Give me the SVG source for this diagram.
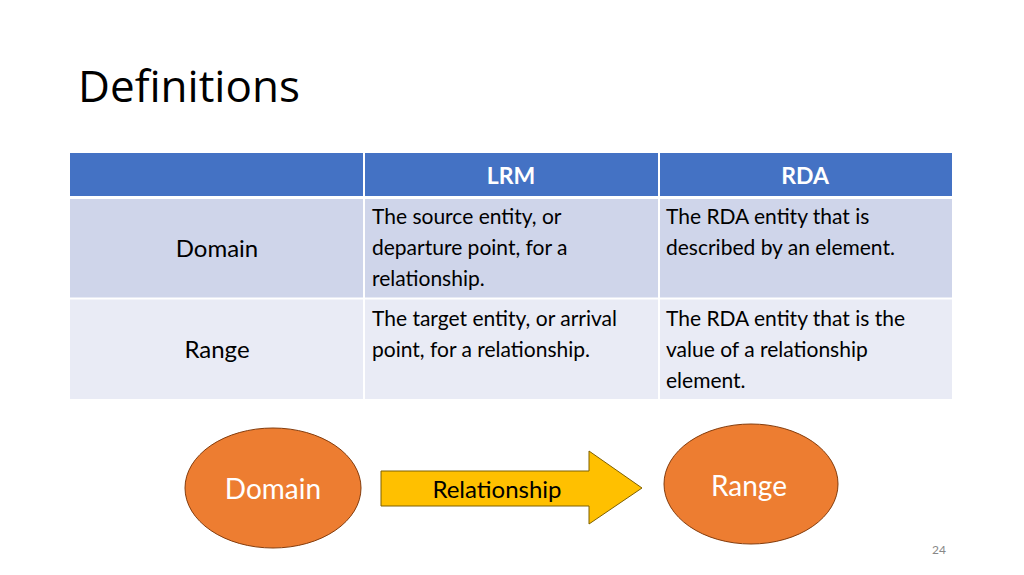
<svg xmlns="http://www.w3.org/2000/svg" width="1024" height="575" viewBox="0 0 1024 575">
<style>
.t{font-family:Lato,"Liberation Sans",sans-serif;font-size:21px;fill:#000}
.h{font-family:Lato,"Liberation Sans",sans-serif;font-size:23px;font-weight:bold;fill:#fff}
.c{font-family:Lato,"Liberation Sans",sans-serif;font-size:24px;fill:#000}
.n{font-family:Lato,"Liberation Sans",sans-serif;font-size:28px;fill:#fff}
</style>
<rect width="1024" height="575" fill="#fff"/>
<text x="78" y="102" font-family="'Open Sans','Noto Sans',sans-serif" font-size="44" fill="#000">Definitions</text>
<g id="table">
<rect x="70" y="153" width="882" height="44" fill="#4472C4"/>
<rect x="70" y="198" width="882" height="100" fill="#CFD5EA"/>
<rect x="70" y="299" width="882" height="100" fill="#E9EBF5"/>
<line x1="364" y1="153" x2="364" y2="399" stroke="#fff" stroke-width="2"/>
<line x1="659" y1="153" x2="659" y2="399" stroke="#fff" stroke-width="2"/>
<line x1="70" y1="197.5" x2="952" y2="197.5" stroke="#fff" stroke-width="3"/>
<line x1="70" y1="298.5" x2="952" y2="298.5" stroke="#fff" stroke-width="2"/>
<text class="h" x="511" y="184" text-anchor="middle">LRM</text>
<text class="h" x="805" y="184" text-anchor="middle">RDA</text>
<text class="c" x="217" y="257" text-anchor="middle">Domain</text>
<text class="c" x="217" y="358" text-anchor="middle">Range</text>
<text class="t" x="372" y="224">The source entity, or</text>
<text class="t" x="372" y="255">departure point, for a</text>
<text class="t" x="372" y="286">relationship.</text>
<text class="t" x="666" y="224">The RDA entity that is</text>
<text class="t" x="666" y="255">described by an element.</text>
<text class="t" x="372" y="326">The target entity, or arrival</text>
<text class="t" x="372" y="357">point, for a relationship.</text>
<text class="t" x="666" y="326">The RDA entity that is the</text>
<text class="t" x="666" y="357">value of a relationship</text>
<text class="t" x="666" y="388">element.</text>
</g>
<g id="domain">
<ellipse cx="273" cy="488" rx="88" ry="60" fill="#ED7D31" stroke="#843C0C" stroke-width="1"/>
<text class="n" x="273" y="499" text-anchor="middle">Domain</text>
</g>
<g id="range">
<ellipse cx="751" cy="484" rx="87" ry="60" fill="#ED7D31" stroke="#843C0C" stroke-width="1"/>
<text class="n" x="749" y="496" text-anchor="middle">Range</text>
</g>
<g id="connectors">
<polygon points="381,471 589,471 589,451 642,488 589,524 589,506 381,506" fill="#FFC000" stroke="#7F6000" stroke-width="1"/>
<text class="c" x="497" y="498" text-anchor="middle">Relationship</text>
</g>
<text x="939" y="554" font-family="Lato,'Liberation Sans',sans-serif" font-size="12" fill="#888" text-anchor="middle">24</text>
</svg>
